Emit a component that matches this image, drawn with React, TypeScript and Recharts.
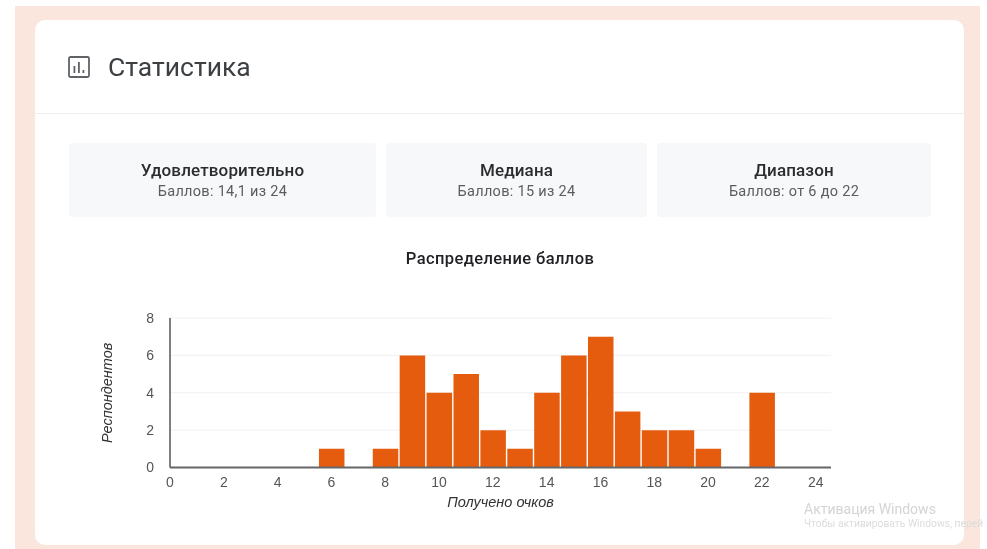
import { Bar, BarChart, CartesianGrid, XAxis, YAxis } from "recharts";

const scores = [6, 8, 9, 10, 11, 12, 13, 14, 15, 16, 17, 18, 19, 20, 22];
const respondents = [1, 1, 6, 4, 5, 2, 1, 4, 6, 7, 3, 2, 2, 1, 4];
const xTicks = [0, 2, 4, 6, 8, 10, 12, 14, 16, 18, 20, 22, 24];
const yTicks = [0, 2, 4, 6, 8];

const summaries = [
  { title: "Удовлетворительно", text: "Баллов: 14,1 из 24", left: 69, width: 307 },
  { title: "Медиана", text: "Баллов: 15 из 24", left: 386, width: 261 },
  { title: "Диапазон", text: "Баллов: от 6 до 22", left: 657, width: 274 },
];

const data = scores.map((score, i) => ({ score, count: respondents[i] }));

const sans = "Roboto, sans-serif";
const arial = "'Liberation Sans', Arial, sans-serif";

function StatsIcon() {
  return (
    <svg
      width={22}
      height={22}
      viewBox="0 0 22 22"
      style={{ position: "absolute", left: 68, top: 56 }}
    >
      <rect x={1} y={1} width={20} height={20} rx={1.5} fill="none" stroke="#5f6368" strokeWidth={1.8} />
      <rect x={5.5} y={10} width={1.8} height={7} fill="#5f6368" />
      <rect x={10} y={6} width={1.8} height={11} fill="#5f6368" />
      <rect x={14.5} y={14} width={1.8} height={3} fill="#5f6368" />
    </svg>
  );
}

export default function App() {
  return (
    <div
      style={{
        position: "absolute",
        left: 0,
        top: 0,
        width: 987,
        height: 549,
        overflow: "hidden",
        background: "#fff",
        fontFamily: sans,
        filter: "blur(0.4px)",
      }}
    >
      <div
        style={{
          position: "absolute",
          left: 15,
          top: 6,
          width: 965,
          height: 543,
          background: "#fae6dd",
        }}
      />
      <div
        style={{
          position: "absolute",
          left: 35,
          top: 20,
          width: 929,
          height: 525,
          background: "#fff",
          borderRadius: 10,
        }}
      />
      <div
        style={{
          position: "absolute",
          left: 35,
          top: 113,
          width: 929,
          height: 1,
          background: "#eeeeee",
        }}
      />
      <StatsIcon />
      <div
        style={{
          position: "absolute",
          left: 108,
          top: 50,
          fontSize: 26.5,
          lineHeight: "34px",
          color: "#3c4043",
        }}
      >
        Статистика
      </div>

      {summaries.map((s) => (
        <div
          key={s.title}
          style={{
            position: "absolute",
            left: s.left,
            top: 143,
            width: s.width,
            height: 74,
            background: "#f7f8f9",
            borderRadius: 4,
            textAlign: "center",
          }}
        >
          <div
            style={{
              marginTop: 17,
              fontSize: 17,
              fontWeight: 500,
              lineHeight: "20px",
              letterSpacing: 0.15,
              color: "#2a2c2e",
            }}
          >
            {s.title}
          </div>
          <div
            style={{
              marginTop: 3,
              fontSize: 14.5,
              lineHeight: "18px",
              letterSpacing: 0.3,
              color: "#5a5d60",
            }}
          >
            {s.text}
          </div>
        </div>
      ))}

      <div
        style={{
          position: "absolute",
          left: 300,
          top: 249,
          width: 400,
          textAlign: "center",
          fontSize: 16.5,
          fontWeight: 500,
          lineHeight: "20px",
          letterSpacing: 0.4,
          color: "#202124",
        }}
      >
        Распределение баллов
      </div>

      <div style={{ position: "absolute", left: 90, top: 300 }}>
        <BarChart
          width={760}
          height={220}
          data={data}
          barSize={25.5}
          margin={{ top: 18, right: 19, bottom: 12.5, left: 10 }}
        >
          <CartesianGrid horizontal vertical={false} stroke="#f1f1f1" />
          <XAxis
            type="number"
            dataKey="score"
            domain={[0, 24.57]}
            ticks={xTicks}
            allowDataOverflow
            height={40}
            tickLine={false}
            tickMargin={4}
            axisLine={{ stroke: "#666", strokeWidth: 2 }}
            tick={{ fill: "#555", fontSize: 14, fontFamily: arial }}
            label={{
              value: "Получено очков",
              position: "insideBottom",
              offset: 1,
              fill: "#333",
              fontSize: 14.5,
              fontStyle: "italic",
              fontFamily: arial,
            }}
          />
          <YAxis
            type="number"
            domain={[0, 8]}
            ticks={yTicks}
            width={70}
            tickLine={false}
            tickMargin={10}
            axisLine={{ stroke: "#555", strokeWidth: 1.5 }}
            tick={{ fill: "#555", fontSize: 14, fontFamily: arial }}
            label={{
              value: "Респондентов",
              angle: -90,
              position: "insideLeft",
              offset: 7,
              style: { textAnchor: "middle" },
              fill: "#333",
              fontSize: 14.5,
              fontStyle: "italic",
              fontFamily: arial,
            }}
          />
          <Bar dataKey="count" fill="#e65c0f" isAnimationActive={false} />
        </BarChart>
      </div>

      <div
        style={{
          position: "absolute",
          left: 804,
          top: 500,
          fontSize: 14,
          lineHeight: "18px",
          color: "#d4d4d4",
          whiteSpace: "nowrap",
        }}
      >
        Активация Windows
      </div>
      <div
        style={{
          position: "absolute",
          left: 804,
          top: 517,
          fontSize: 10.3,
          lineHeight: "14px",
          color: "#dcdcdc",
          whiteSpace: "nowrap",
        }}
      >
        Чтобы активировать Windows, перей
      </div>
    </div>
  );
}
